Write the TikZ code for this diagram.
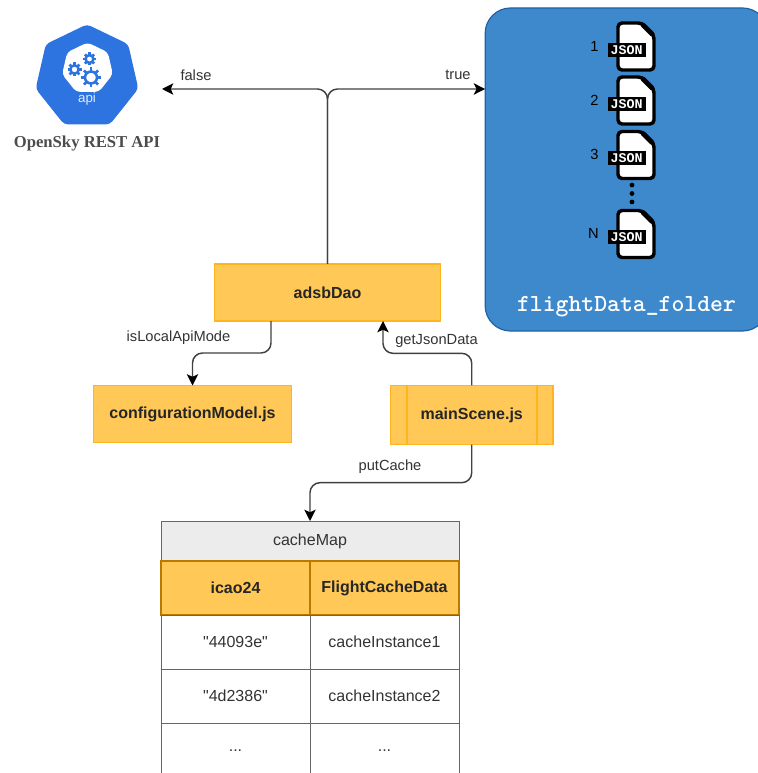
\documentclass[tikz,border=0pt]{standalone}
\usepackage{fontspec}
\setmainfont{Liberation Sans}
\newfontfamily\cellfont{Liberation Sans}
\newfontfamily\apititlefont{Liberation Serif}
\newfontfamily\jsonfont{Liberation Mono}
\usetikzlibrary{arrows.meta, calc, shapes.geometric}

\definecolor{boxfill}{HTML}{FFC857}
\definecolor{boxline}{HTML}{FFB61E}
\definecolor{headline}{HTML}{B87A00}
\definecolor{gridline}{HTML}{666666}
\definecolor{titlefill}{HTML}{ECECEC}
\definecolor{folderfill}{HTML}{3E88CC}
\definecolor{folderline}{HTML}{1F62A8}
\definecolor{apiblue}{HTML}{2D74E0}
\definecolor{labelgray}{HTML}{333333}

\newcommand\celldots{\raisebox{-2pt}{...}}

\tikzset{
	link/.style = {draw = black!75, line width = 1.1pt, rounded corners = 7.5pt, -{Stealth[length = 8.5pt, width = 8.5pt, inset = 2pt, color = black]}},
	linklabel/.style = {text = labelgray, font = \fontsize{11}{11}\selectfont, inner sep = 0pt},
	classbox/.style = {draw = boxline, fill = boxfill, line width = 0.9pt, inner sep = 0pt, outer sep = 0pt,
		minimum height = 42.75pt, font = \fontsize{12}{12}\selectfont\bfseries, text = black!85},
	cell/.style = {draw = gridline, line width = 0.75pt, inner sep = 0pt, outer sep = 0pt, text = labelgray,
		minimum height = 40.5pt, font = \fontsize{12}{12}\selectfont\cellfont},
	headcell/.style = {cell, draw = headline, line width = 1pt, fill = boxfill, font = \fontsize{12}{12}\selectfont\bfseries, text = black!85},
	septagon/.style = {regular polygon, regular polygon sides = 7, inner sep = 0pt, outer sep = 0pt},
	pics/cog/.style = {code = {
		\draw[apiblue, line width = 1.9pt] (0,0) circle (#1*0.6);
		\foreach \ang in {0,45,...,315} {
			\draw[apiblue, line width = 1.9pt] (\ang:#1*0.6) -- (\ang:#1);
		}
	}},
	pics/jsonfile/.style = {code = {
		\draw[fill = white, draw = black, line width = 2.6pt, line join = round, rounded corners = 3pt]
			(2,0) -- (26,0) -- (38,12) -- (38,47) -- (2,47) -- cycle;
		\draw[black, line width = 3.6pt, line cap = round] (27,2) -- (36,11);
		\node[fill = black, text = white, inner sep = 0pt, minimum width = 28.5pt, minimum height = 10.5pt,
			font = \fontsize{10}{10}\selectfont\jsonfont\bfseries] (-tag) at (10.5,27) {JSON};
	}},
}

\begin{document}
\begin{tikzpicture}[x = 0.75pt, y = -0.75pt]
	\useasboundingbox (0,0) rectangle (757,773);

	% api logo
	\node[septagon, fill = apiblue, rounded corners = 3pt, minimum size = 79pt] (openSky) at (87,77) {};
	\node[septagon, fill = white, rounded corners = 3pt, minimum size = 39pt] (openSkyInner) at (87.5,68.5) {};
	\pic at (91,77.5) {cog = 10};
	\pic at (74.5,69.5) {cog = 7};
	\pic at (89.5,59) {cog = 6.5};
	\node[text = white!85!apiblue, font = \fontsize{10}{10}\selectfont, inner sep = 0pt] (apiText) at (87,99.5) {api};
	\node[text = black!70, font = \fontsize{12.5}{12.5}\selectfont\apititlefont\bfseries, inner sep = 0pt] (openSkyTitle) at (87,144) {OpenSky REST API};

	% folder of json files
	\node[draw = folderline, fill = folderfill, line width = 0.9pt, rounded corners = 19pt, inner sep = 0pt, outer sep = 0pt,
		minimum width = 212pt, minimum height = 242.25pt] (flightData) at (626.5,169.5) {};
	\foreach \fname / \fy / \ftext / \ftextx in {%
		fileOne/23/1/594.5,
		fileTwo/77/2/594.5,
		fileThree/131.5/3/594.5,
		fileN/210.5/N/593.5%
	}{
		\pic (\fname) at (616,\fy) {jsonfile};
		\node[text = black, font = \fontsize{11}{11}\selectfont, inner sep = 0pt] (\fname Text) at (\ftextx,\fy+23) {\ftext};
	}
	\foreach \dotname / \dy in {dotA/185, dotB/193.5, dotC/202} {
		\fill (632,\dy) circle (2.4) coordinate (\dotname);
	}
	\node[text = white, font = \fontsize{18.4}{18.4}\selectfont\ttfamily\bfseries, inner sep = 0pt] (folderText) at (626.5,307) {flightData\_folder};

	% class boxes
	\node[classbox, minimum width = 169pt] (adsbDao) at (327.5,292.5) {adsbDao};
	\node[classbox, minimum width = 149pt] (configurationModel) at (192.5,414) {configurationModel.js};
	\node[classbox, minimum width = 122pt, minimum height = 44.5pt] (mainScene) at (471.75,415) {mainScene.js};
	\draw[boxline, line width = 0.9pt] ([xshift = 12.4pt]mainScene.north west) -- ([xshift = 12.4pt]mainScene.south west);
	\draw[boxline, line width = 0.9pt] ([xshift = -12pt]mainScene.north east) -- ([xshift = -12pt]mainScene.south east);

	% cache table
	\node[cell, fill = titlefill, minimum width = 223.5pt, minimum height = 30pt] (cacheMap) at (310,541) {cacheMap};
	\node[headcell, minimum width = 111.75pt] (keyHead) at (235.5,588) {icao24};
	\node[headcell, minimum width = 111.75pt] (valueHead) at (384.5,588) {FlightCacheData};
	\foreach \rowname / \rowy / \rowkey / \rowval in {%
		rowOne/642/"44093e"/cacheInstance1,
		rowTwo/696/"4d2386"/cacheInstance2,
		rowDots/750/\celldots/\celldots%
	}{
		\node[cell, minimum width = 111.75pt] (\rowname Key) at (235.5,\rowy) {\rowkey};
		\node[cell, minimum width = 111.75pt] (\rowname Val) at (384.5,\rowy) {\rowval};
	}

	% connectors
	\coordinate (apiEnd) at (162,89);
	\coordinate (folderEnd) at (flightData.west |- apiEnd);
	\coordinate (daoOut) at (271,321);
	\coordinate (daoIn) at (383,321);
	\draw[link] (adsbDao.north) |- (apiEnd);
	\draw[link] (adsbDao.north) |- (folderEnd);
	\draw[link] (daoOut) -- ++(0,32) -| (configurationModel.north);
	\draw[link] (mainScene.north) -- ++(0,-32) -| (daoIn);
	\draw[link] (mainScene.south) -- ++(0,38) -| (cacheMap.north);

	% connector labels
	\node[linklabel] (falseText) at (196,75) {false};
	\node[linklabel] (trueText) at (458,75) {true};
	\node[linklabel] (localText) at (178.5,338) {isLocalApiMode};
	\node[linklabel] (jsonText) at (436.5,341) {getJsonData};
	\node[linklabel] (putText) at (390,467) {putCache};
\end{tikzpicture}
\end{document}
